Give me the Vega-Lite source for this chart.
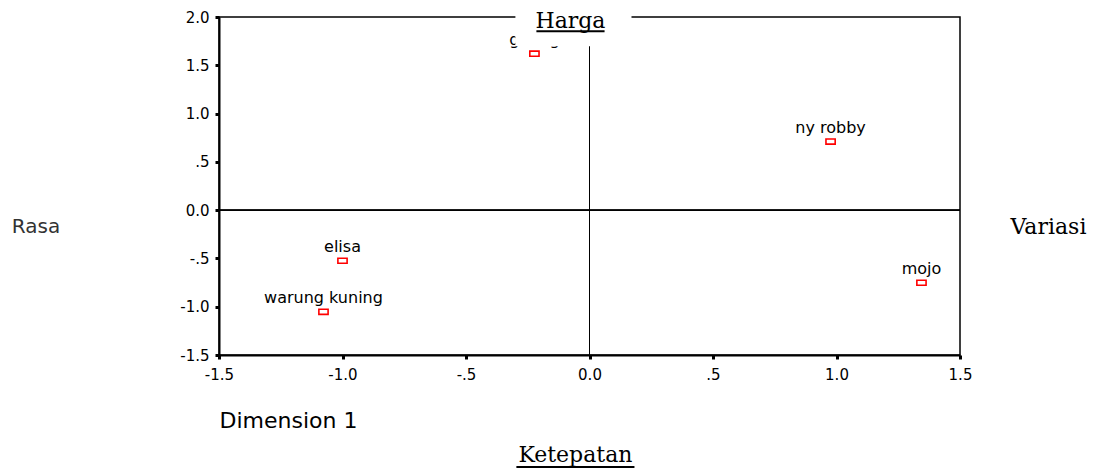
{
  "$schema": "https://vega.github.io/schema/vega-lite/v6.json",
  "width": 741,
  "height": 338,
  "autosize": {"type": "none"},
  "padding": {"left": 219, "top": 17, "right": 139, "bottom": 114},
  "background": "white",
  "config": {
    "view": {"stroke": "black", "strokeWidth": 1.5},
    "axis": {
      "domainColor": "black",
      "domainWidth": 2,
      "tickColor": "black",
      "tickSize": 4,
      "tickWidth": 3,
      "labelFont": "DejaVu Sans",
      "labelFontSize": 15,
      "labelColor": "black",
      "grid": false,
      "titleFont": "DejaVu Sans",
      "titleFontWeight": "normal",
      "titleFontSize": 22,
      "titleColor": "black"
    }
  },
  "datasets": {
    "points": [
      {"brand": "gudeg", "x": -0.223, "y": 1.62},
      {"brand": "ny robby", "x": 0.976, "y": 0.71},
      {"brand": "mojo", "x": 1.344, "y": -0.752},
      {"brand": "elisa", "x": -1.0, "y": -0.524},
      {"brand": "warung kuning", "x": -1.077, "y": -1.053}
    ],
    "mask": [{"x1": -0.3, "x2": 0.17, "y1": 1.696, "y2": 2.2}],
    "serifLabels": [
      {"label": "Harga", "x": -0.077, "y": 1.883},
      {"label": "Variasi", "x": 1.858, "y": -0.244},
      {"label": "Ketepatan", "x": -0.057, "y": -2.609}
    ],
    "sansLabels": [{"label": "Rasa", "x": -2.241, "y": -0.233}],
    "underlines": [
      {"x1": -0.215, "x2": 0.061, "y": 1.852},
      {"x1": -0.296, "x2": 0.182, "y": -2.661}
    ]
  },
  "layer": [
    {
      "data": {"name": "points"},
      "mark": {"type": "rule", "color": "black", "strokeWidth": 1},
      "encoding": {
        "x": {
          "datum": 0,
          "type": "quantitative",
          "scale": {"domain": [-1.5, 1.5], "nice": false, "zero": false},
          "axis": {
            "values": [-1.5, -1, -0.5, 0, 0.5, 1, 1.5],
            "labelExpr": "datum.value == 0 ? '0.0' : (datum.value < 0 ? '-' : '') + replace(format(abs(datum.value), '.1f'), '0.', '.')",
            "labelFlush": false,
            "labelOverlap": false,
            "labelPadding": 8,
            "title": "Dimension 1",
            "titleAnchor": "start",
            "titleAlign": "left",
            "titlePadding": 28
          }
        }
      }
    },
    {
      "data": {"name": "points"},
      "mark": {"type": "rule", "color": "black", "strokeWidth": 1},
      "encoding": {
        "y": {
          "datum": 0,
          "type": "quantitative",
          "scale": {"domain": [-1.5, 2], "nice": false, "zero": false},
          "axis": {
            "values": [-1.5, -1, -0.5, 0, 0.5, 1, 1.5, 2],
            "labelExpr": "datum.value == 0 ? '0.0' : (datum.value < 0 ? '-' : '') + replace(format(abs(datum.value), '.1f'), '0.', '.')",
            "labelOverlap": false,
            "labelPadding": 6,
            "title": null
          }
        }
      }
    },
    {
      "data": {"name": "points"},
      "mark": {"type": "point", "shape": "M-1,-0.55H1V0.55H-1Z", "size": 85, "filled": false, "color": "#ff0000", "strokeWidth": 1.6, "opacity": 1},
      "encoding": {
        "x": {"field": "x", "type": "quantitative"},
        "y": {"field": "y", "type": "quantitative"}
      }
    },
    {
      "data": {"name": "points"},
      "mark": {"type": "text", "font": "DejaVu Sans", "fontSize": 16, "color": "black", "align": "center", "baseline": "alphabetic", "dy": -9},
      "encoding": {
        "x": {"field": "x", "type": "quantitative"},
        "y": {"field": "y", "type": "quantitative"},
        "text": {"field": "brand"}
      }
    },
    {
      "data": {"name": "mask"},
      "mark": {"type": "rect", "fill": "white", "clip": false},
      "encoding": {
        "x": {"field": "x1", "type": "quantitative"},
        "x2": {"field": "x2"},
        "y": {"field": "y1", "type": "quantitative"},
        "y2": {"field": "y2"}
      }
    },
    {
      "data": {"name": "serifLabels"},
      "mark": {"type": "text", "font": "DejaVu Serif", "fontSize": 22, "color": "black", "align": "center", "baseline": "alphabetic", "clip": false},
      "encoding": {
        "x": {"field": "x", "type": "quantitative"},
        "y": {"field": "y", "type": "quantitative"},
        "text": {"field": "label"}
      }
    },
    {
      "data": {"name": "sansLabels"},
      "mark": {"type": "text", "font": "DejaVu Sans", "fontSize": 20, "color": "#333333", "align": "center", "baseline": "alphabetic", "clip": false},
      "encoding": {
        "x": {"field": "x", "type": "quantitative"},
        "y": {"field": "y", "type": "quantitative"},
        "text": {"field": "label"}
      }
    },
    {
      "data": {"name": "underlines"},
      "mark": {"type": "rule", "color": "black", "strokeWidth": 2, "clip": false},
      "encoding": {
        "x": {"field": "x1", "type": "quantitative"},
        "x2": {"field": "x2"},
        "y": {"field": "y", "type": "quantitative"}
      }
    }
  ]
}
